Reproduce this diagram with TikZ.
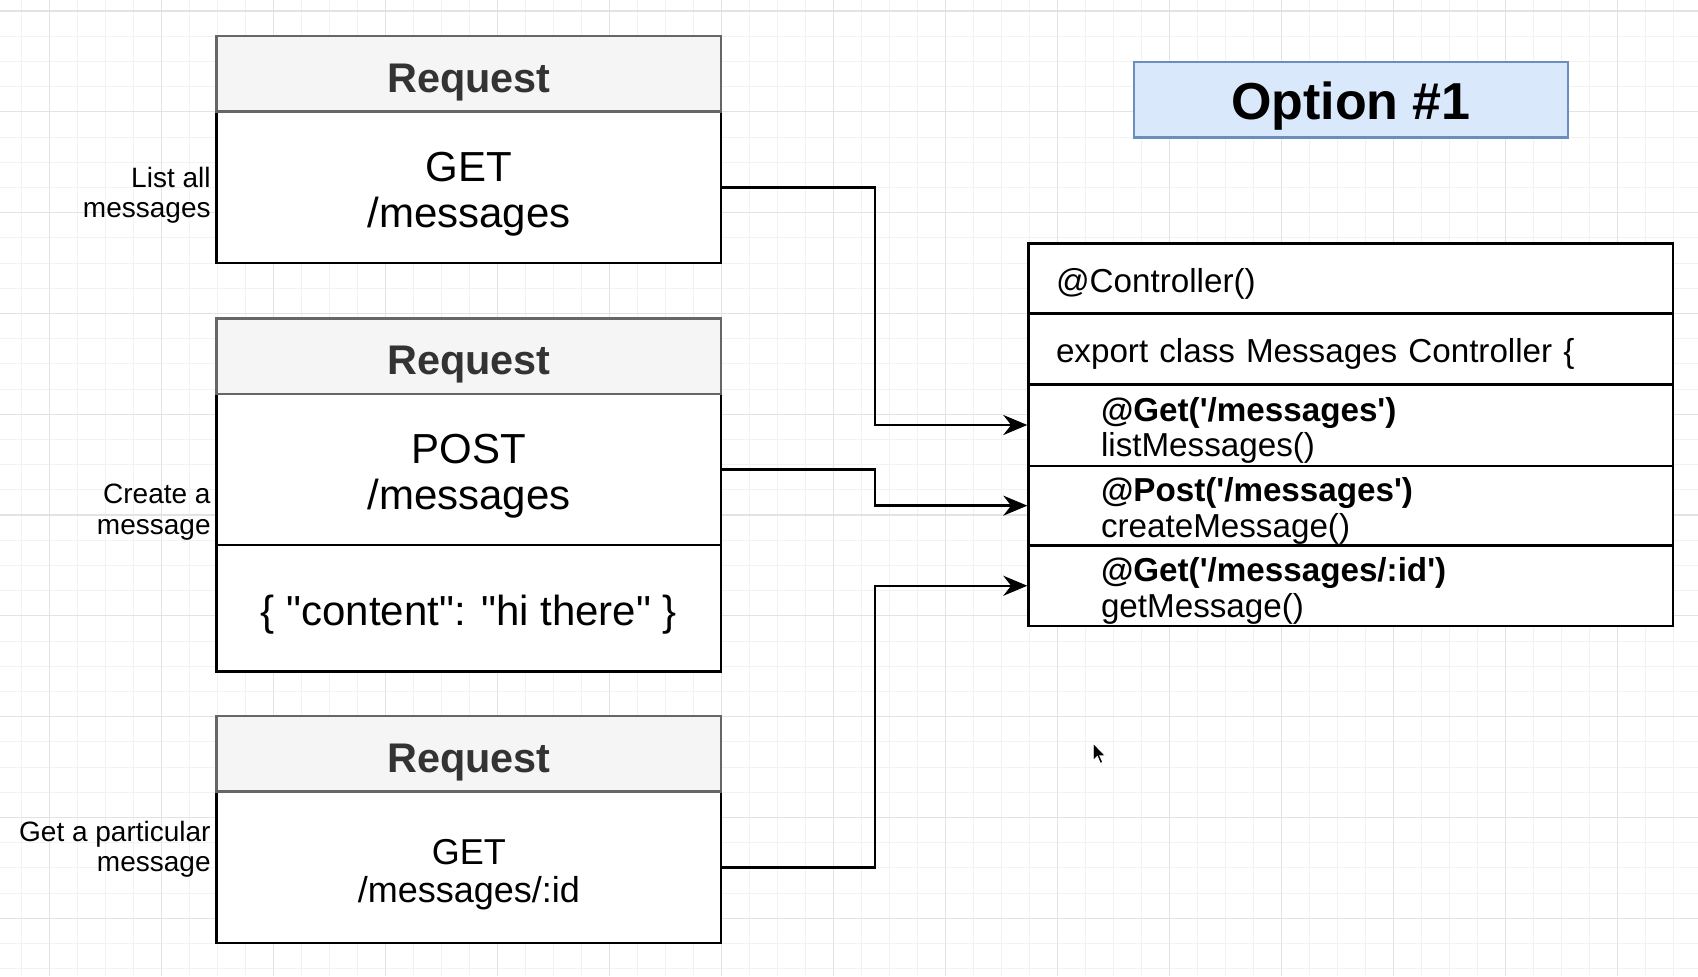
\documentclass[tikz,border=0pt]{standalone}
\usepackage{fontspec}
\setmainfont{Liberation Sans}
\usetikzlibrary{arrows.meta, calc}
\definecolor{hdrfill}{HTML}{F5F5F5}
\definecolor{hdrline}{HTML}{666666}
\definecolor{hdrtext}{HTML}{333333}
\definecolor{optfill}{HTML}{DAE8FC}
\definecolor{optline}{HTML}{6C8EBF}
\definecolor{gridmin}{HTML}{F2F2F2}
\definecolor{gridmaj}{HTML}{E3E3E3}
\newcommand{\squote}{\textquotesingle}
\newcommand{\dquote}{\textquotedbl}
\newcommand{\txtlift}[1]{\rule{0pt}{\dimexpr0.73em+#1\relax}}

\begin{document}
\begin{tikzpicture}[x=0.5pt, y=-0.5pt,
		hdr/.style={draw=hdrline, fill=hdrfill, line width=1.2pt, minimum width=252.3pt, minimum height=37.9pt, inner sep=0pt, text=hdrtext, font=\bfseries\fontsize{20.7}{24}\selectfont},
		body/.style={draw, fill=white, line width=1.2pt, minimum width=252.3pt, inner sep=0pt, align=center, font=\fontsize{21}{23}\selectfont},
		side/.style={anchor=east, align=right, inner sep=0pt, font=\fontsize{14}{15.2}\selectfont},
		row/.style={draw, fill=white, line width=1.2pt, inner ysep=0pt, align=left, font=\fontsize{16.6}{17.9}\selectfont},
		cls/.style={row, inner xsep=13.75pt, text width=294.85pt},
		meth/.style={row, inner xsep=36.25pt, text width=249.85pt},
		link/.style={line width=1.2pt, -{Stealth[length=12pt, width=10pt]}}]
		\useasboundingbox (0,0) rectangle (1698,976);
		\fill[white] (0,0) rectangle (1698,976);
		\foreach \i in {0,...,59} \draw[gridmin, line width=0.5pt] ({21.3+28*\i},0) -- ({21.3+28*\i},976);
		\foreach \j in {0,...,38} \draw[gridmin, line width=0.5pt] (0,{11+25.2*\j}) -- (1698,{11+25.2*\j});
		\foreach \i in {0,...,14} \draw[gridmaj, line width=0.6pt] ({49.3+112*\i},0) -- ({49.3+112*\i},976);
		\foreach \j in {0,...,9} \draw[gridmaj, line width=0.6pt] (0,{11+100.8*\j}) -- (1698,{11+100.8*\j});

		\node[body, minimum height=75.8pt] (getAll) at (468.9,187.3) {\txtlift{6.5pt}GET\\/messages};
		\node[hdr] (hdrA) at (468.9,73.6) {\txtlift{7.6pt}Request};
		\node[side] (lblA) at (211,195) {List all\\messages};

		\node[body, minimum height=75.25pt] (postMsg) at (468.9,469.45) {\txtlift{6.5pt}POST\\/messages};
		\node[body, minimum height=63.35pt] (postBody) at (468.9,608.05) {\txtlift{6.5pt}\{ \dquote content\dquote: \dquote hi there\dquote\ \}};
		\node[hdr] (hdrB) at (468.9,356.3) {\txtlift{7.6pt}Request};
		\node[side] (lblB) at (211,512) {Create a\\message};

		\node[body, minimum height=75.8pt, font=\fontsize{18}{19}\selectfont] (getOne) at (468.9,867.4) {\txtlift{6.5pt}GET\\/messages/:id};
		\node[hdr] (hdrC) at (468.9,753.7) {\txtlift{7.6pt}Request};
		\node[side] (lblC) at (211,849) {Get a particular\\message};

		\node[draw=optline, fill=optfill, line width=1.2pt, minimum width=217.1pt, minimum height=37.9pt, inner sep=0pt, font=\bfseries\fontsize{26}{30}\selectfont] (opt) at (1350.9,99.6) {\txtlift{6.5pt}Option \#1};

		\node[cls, minimum height=35pt] (ctlDeco) at (1350.85,278.5) {\txtlift{5.4pt}@Controller()};
		\node[cls, minimum height=35.4pt] (ctlClass) at (1350.85,348.9) {\txtlift{5.4pt}export class Messages Controller \{};
		\node[meth, minimum height=40.7pt] (mList) at (1350.85,425) {\txtlift{5.4pt}\textbf{@Get(\squote/messages\squote)}\\listMessages()};
		\node[meth, minimum height=39.95pt] (mCreate) at (1350.85,505.65) {\txtlift{5.4pt}\textbf{@Post(\squote/messages\squote)}\\createMessage()};
		\node[meth, minimum height=40.15pt] (mGet) at (1350.85,585.75) {\txtlift{5.4pt}\textbf{@Get(\squote/messages/:id\squote)}\\getMessage()};

		\draw[link] (getAll.east) -| ($(getAll.east)!0.5!(mList.west)$) |- (mList.west);
		\draw[link] (postMsg.east) -| ($(postMsg.east)!0.5!(mCreate.west)$) |- (mCreate.west);
		\draw[link] (getOne.east) -| ($(getOne.east)!0.5!(mGet.west)$) |- (mGet.west);

		\fill[black, draw=white, line width=0.4pt] (1093.3,743.3) -- ++(0,17) -- ++(4,-4) -- ++(3,7) -- ++(2.5,-1) -- ++(-3,-6.5) -- ++(5.5,0) -- cycle;
	\end{tikzpicture}
\end{document}
